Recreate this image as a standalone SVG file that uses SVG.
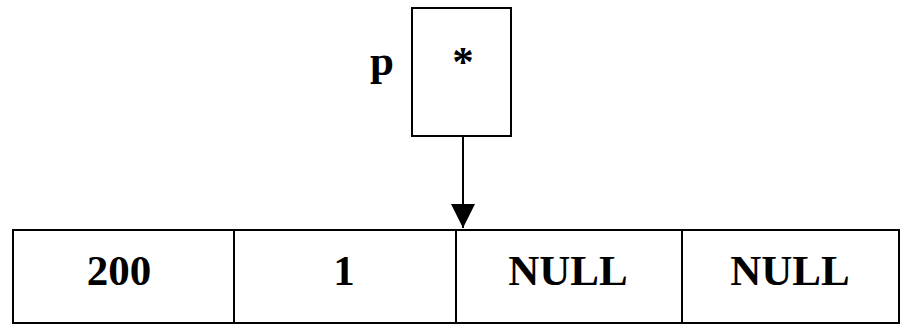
<svg xmlns="http://www.w3.org/2000/svg" width="901" height="325" viewBox="0 0 901 325">
<style>
.box{fill:#fff;stroke:#000;stroke-width:2}
.t{font-family:"Liberation Serif","Times New Roman",serif;font-weight:bold;font-size:43px;fill:#000;text-anchor:middle}
.c{stroke:#000;stroke-width:2;fill:none}
</style>
<defs>
<marker id="ah" markerWidth="24" markerHeight="24" refX="23" refY="11.5" orient="auto" markerUnits="userSpaceOnUse" viewBox="0 0 23 23">
<path d="M0,0 L23,11.5 L0,23 z" fill="#000"/>
</marker>
</defs>
<rect width="901" height="325" fill="#fff"/>
<g id="ptr">
<rect class="box" x="412" y="8" width="99" height="128"/>
<text class="t" x="463" y="76" font-size="56" font-weight="normal">*</text>
<text class="t" x="382" y="75">p</text>
</g>
<g id="node">
<rect class="box" x="13" y="230" width="886" height="93"/>
<line class="c" x1="234" y1="230" x2="234" y2="323"/>
<line class="c" x1="456" y1="230" x2="456" y2="323"/>
<line class="c" x1="682" y1="230" x2="682" y2="323"/>
<text class="t" x="119" y="285">200</text>
<text class="t" x="344" y="285">1</text>
<text class="t" x="568" y="285">NULL</text>
<text class="t" x="790" y="285">NULL</text>
</g>
<g id="connectors">
<line class="c" x1="463" y1="136" x2="463" y2="228" marker-end="url(#ah)"/>
</g>
</svg>
